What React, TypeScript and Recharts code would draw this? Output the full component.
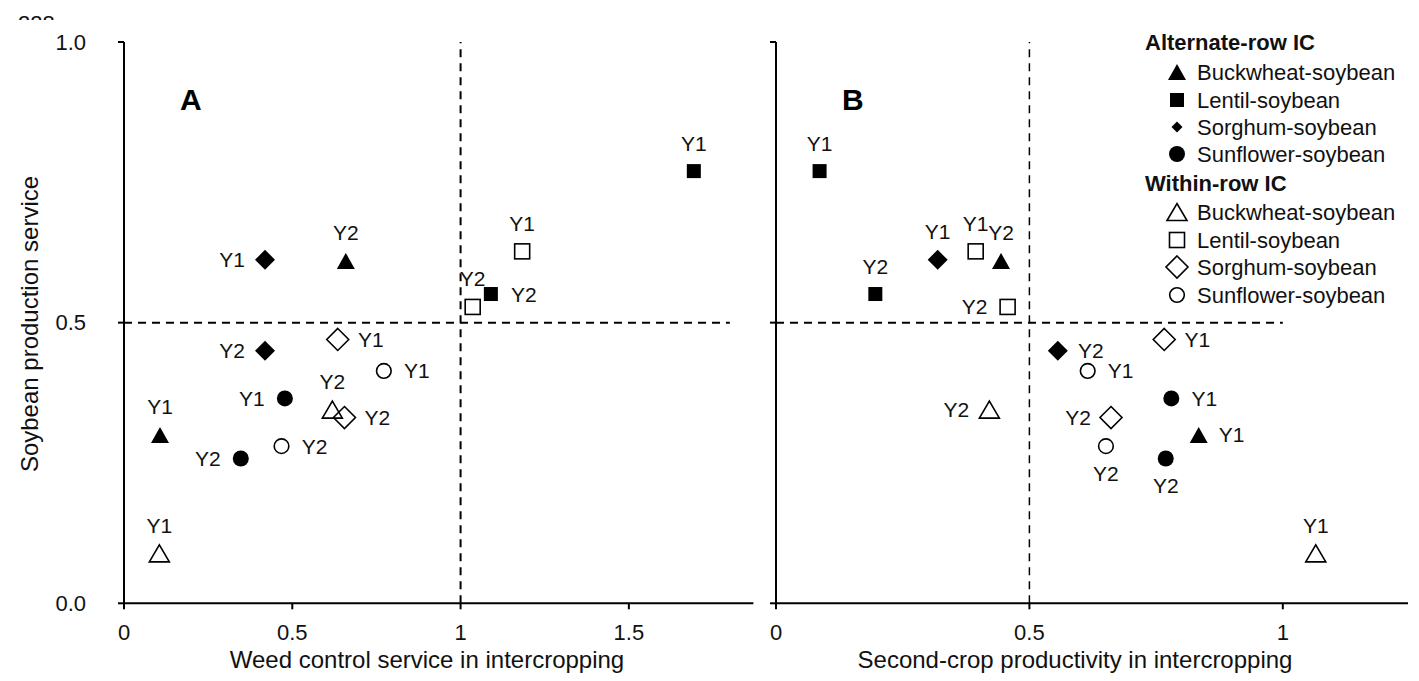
import { ScatterChart, Scatter, XAxis, YAxis, ReferenceLine } from "recharts";

const FONT = '"Liberation Sans", Arial, sans-serif';
const FS = 21; // point tags
const TICK_FS = 22;
const LEGEND_FS = 22;
const TITLE_FS = 24;

// series order: alternate-row (4 crops), then within-row (4 crops)
const crops = ["Buckwheat-soybean", "Lentil-soybean", "Sorghum-soybean", "Sunflower-soybean"];
const arrangements = ["Alternate-row IC", "Within-row IC"];
const years = ["Y1", "Y2"];

// soybean production service (shared y for both panels)
const soybeanY1 = [0.300, 0.770, 0.612, 0.365, 0.089, 0.627, 0.470, 0.414];
const soybeanY2 = [0.610, 0.551, 0.450, 0.258, 0.345, 0.528, 0.331, 0.280];

// panel A: weed control service
const weedY1 = [0.107, 1.693, 0.419, 0.478, 0.105, 1.183, 0.635, 0.772];
const weedY2 = [0.659, 1.090, 0.419, 0.347, 0.619, 1.036, 0.655, 0.468];

// panel B: second-crop productivity
const secondY1 = [0.834, 0.086, 0.319, 0.780, 1.065, 0.394, 0.766, 0.615];
const secondY2 = [0.444, 0.196, 0.556, 0.769, 0.421, 0.457, 0.661, 0.651];

const xTicksA = [0, 0.5, 1, 1.5];
const xTicksB = [0, 0.5, 1];
const yTicks = [0, 0.5, 1];

// where the Y1/Y2 tag sits next to each point
type Side = "top" | "bottom" | "left" | "right";
const sideA1: Side[] = ["top", "top", "left", "left", "top", "top", "right", "right"];
const sideA2: Side[] = ["top", "right", "left", "left", "top", "top", "right", "right"];
const sideB1: Side[] = ["right", "top", "top", "right", "top", "top", "right", "right"];
const sideB2: Side[] = ["top", "top", "right", "bottom", "left", "left", "left", "bottom"];

const offsets: Record<Side, [number, number]> = {
    top: [0, -28],
    bottom: [0, 27],
    left: [-33, 0],
    right: [33, 0],
};

function Marker({ cx, cy, crop, open, legend = false }: { cx: number; cy: number; crop: number; open: boolean; legend?: boolean }) {
    const fill = open ? "none" : "#000";
    const stroke = open ? "#000" : "none";
    const sw = open ? 1.6 : 0;
    if (crop === 0) {
        const w = open ? 20 : 18;
        const h = open ? 17 : 16;
        return (
            <polygon
                points={`${cx - w / 2},${cy + h / 2} ${cx + w / 2},${cy + h / 2} ${cx},${cy - h / 2}`}
                fill={fill} stroke={stroke} strokeWidth={sw}
            />
        );
    }
    if (crop === 1) {
        const s = open ? 15 : 14;
        return <rect x={cx - s / 2} y={cy - s / 2} width={s} height={s} fill={fill} stroke={stroke} strokeWidth={sw} />;
    }
    if (crop === 2) {
        const r = open ? 11 : legend ? 5.5 : 10;
        return (
            <polygon
                points={`${cx},${cy - r} ${cx + r},${cy} ${cx},${cy + r} ${cx - r},${cy}`}
                fill={fill} stroke={stroke} strokeWidth={sw}
            />
        );
    }
    const r = open ? 7.3 : 8;
    return <circle cx={cx} cy={cy} r={r} fill={fill} stroke={stroke} strokeWidth={sw} />;
}

const pointShape = (crop: number, open: boolean) => (props: any) => {
    const { cx, cy, payload } = props;
    const [dx, dy] = offsets[payload.side as Side];
    return (
        <g>
            <Marker cx={cx} cy={cy} crop={crop} open={open} />
            <text x={cx + dx} y={cy + dy + FS * 0.36} textAnchor="middle" fontSize={FS} fontFamily={FONT} fill="#111">
                {payload.year}
            </text>
        </g>
    );
};

function buildRows(x1: number[], x2: number[], s1: Side[], s2: Side[], i: number) {
    return [
        { x: x1[i], y: soybeanY1[i], year: years[0], side: s1[i] },
        { x: x2[i], y: soybeanY2[i], year: years[1], side: s2[i] },
    ];
}

const series = arrangements.flatMap((_, a) => crops.map((__, c) => ({ idx: a * 4 + c, crop: c, open: a === 1 })));

const axisLine = { stroke: "#000", strokeWidth: 2 };
const tickStyle = { fill: "#111", fontSize: TICK_FS, fontFamily: FONT };

interface PanelProps {
    left: number;
    width: number;
    margin: { top: number; right: number; bottom: number; left: number };
    yWidth: number;
    xMax: number;
    xTicks: number[];
    x1: number[];
    x2: number[];
    s1: Side[];
    s2: Side[];
    vx: number;
    hEnd: number;
    vWidth: number;
    yLabels: boolean;
}

function Panel(p: PanelProps) {
    return (
        <div style={{ position: "absolute", left: p.left, top: 0 }}>
            <ScatterChart width={p.width} height={681} margin={p.margin}>
                <XAxis
                    type="number" dataKey="x" domain={[0, p.xMax]} ticks={p.xTicks} interval={0}
                    tickFormatter={(v: number) => String(v)}
                    axisLine={axisLine} tickLine={axisLine} tickSize={6} tickMargin={15}
                    tick={tickStyle} height={30}
                />
                <YAxis
                    type="number" dataKey="y" domain={[0, 1]} ticks={yTicks} interval={0}
                    tickFormatter={(v: number) => (p.yLabels ? v.toFixed(1) : "")}
                    axisLine={axisLine} tickLine={axisLine} tickSize={6} tickMargin={32}
                    tick={tickStyle} width={p.yWidth}
                />
                <ReferenceLine x={p.vx} stroke="#000" strokeWidth={p.vWidth} strokeDasharray="8 6" />
                <ReferenceLine
                    segment={[{ x: 0, y: 0.5 }, { x: p.hEnd, y: 0.5 }]}
                    stroke="#000" strokeWidth={2} strokeDasharray="8 6"
                />
                {series.map((s) => (
                    <Scatter
                        key={s.idx}
                        data={buildRows(p.x1, p.x2, p.s1, p.s2, s.idx)}
                        shape={pointShape(s.crop, s.open)}
                        isAnimationActive={false}
                    />
                ))}
            </ScatterChart>
        </div>
    );
}

function Legend() {
    const rowsAlt = [72, 100, 127, 154];
    const rowsWithin = [212, 240, 267, 295];
    const item = (cy: number, crop: number, open: boolean) => (
        <g key={`${open}-${crop}`}>
            <Marker cx={1177} cy={cy} crop={crop} open={open} legend />
            <text x={1197} y={cy + LEGEND_FS * 0.36} fontSize={LEGEND_FS} fontFamily={FONT} fill="#111">{crops[crop]}</text>
        </g>
    );
    return (
        <g>
            <text x={1145} y={50} fontSize={LEGEND_FS} fontWeight="bold" fontFamily={FONT} fill="#111">{arrangements[0]}</text>
            {rowsAlt.map((cy, c) => item(cy, c, false))}
            <text x={1145} y={191} fontSize={LEGEND_FS} fontWeight="bold" fontFamily={FONT} fill="#111">{arrangements[1]}</text>
            {rowsWithin.map((cy, c) => item(cy, c, true))}
        </g>
    );
}

export default function App() {
    return (
        <div style={{ position: "absolute", left: 0, top: 0, width: 1419, height: 681, background: "#fff", overflow: "hidden" }}>
            <Panel
                left={0} width={770} margin={{ top: 42, right: 16.6, bottom: 47.7, left: 64 }} yWidth={60}
                xMax={1.87} xTicks={xTicksA} x1={weedY1} x2={weedY2} s1={sideA1} s2={sideA2}
                vx={1} hEnd={1.8} vWidth={2} yLabels
            />
            <Panel
                left={700} width={719} margin={{ top: 42, right: 11, bottom: 47.7, left: 36 }} yWidth={40}
                xMax={1.247} xTicks={xTicksB} x1={secondY1} x2={secondY2} s1={sideB1} s2={sideB2}
                vx={0.5} hEnd={1} vWidth={1.5} yLabels={false}
            />
            <svg width={1419} height={681} style={{ position: "absolute", left: 0, top: 0, pointerEvents: "none" }}>
                <defs>
                    <clipPath id="topcut">
                        <rect x={0} y={0} width={80} height={20} />
                    </clipPath>
                </defs>
                <text x={18} y={31} fontSize={22} fontFamily={FONT} fill="#111" clipPath="url(#topcut)">228</text>
                <text x={180} y={110} fontSize={30} fontWeight="bold" fontFamily={FONT} fill="#000">A</text>
                <text x={842} y={110} fontSize={30} fontWeight="bold" fontFamily={FONT} fill="#000">B</text>
                <text
                    x={38} y={324} transform="rotate(-90 38 324)" textAnchor="middle"
                    fontSize={TITLE_FS} fontFamily={FONT} fill="#111"
                >
                    Soybean production service
                </text>
                <text x={427} y={668} textAnchor="middle" fontSize={TITLE_FS} fontFamily={FONT} fill="#111">
                    Weed control service in intercropping
                </text>
                <text x={1075} y={668} textAnchor="middle" fontSize={TITLE_FS} fontFamily={FONT} fill="#111">
                    Second-crop productivity in intercropping
                </text>
                <Legend />
            </svg>
        </div>
    );
}
